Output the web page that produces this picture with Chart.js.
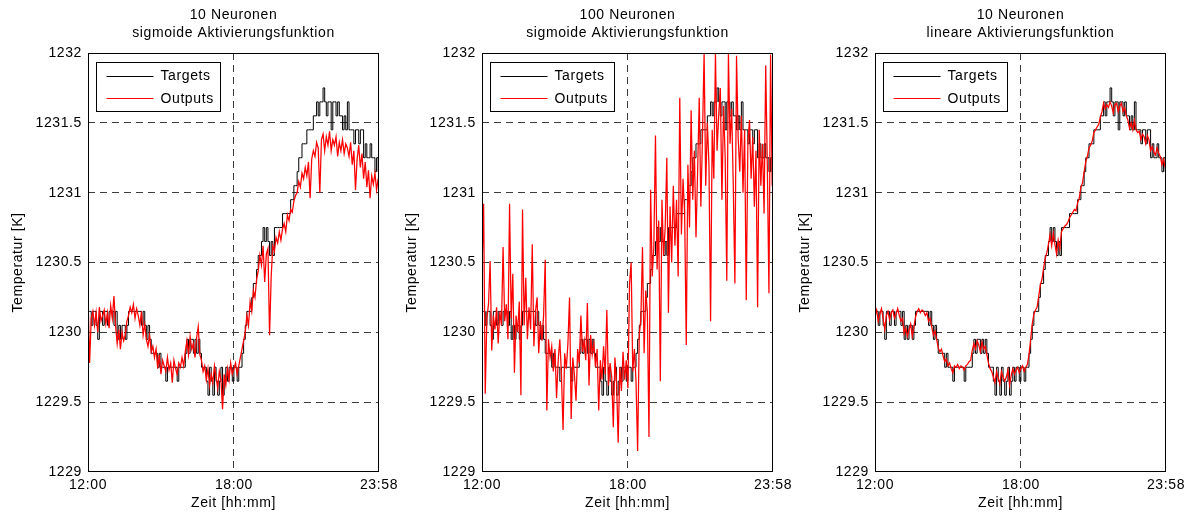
<!DOCTYPE html>
<html lang="de">
<head>
<meta charset="utf-8">
<title>Neuronale Netze – Temperatur</title>
<script src="https://cdn.jsdelivr.net/npm/chart.js@4.4.1/dist/chart.umd.min.js"></script>
<style>
  html, body { margin: 0; padding: 0; background: #fff; }
  #wrap { position: relative; width: 1189px; height: 512px; overflow: hidden; background: #fff; }
  #wrap canvas { position: absolute; top: 0; }
</style>
</head>
<body>
<div id="wrap">
  <canvas id="panel1" width="420" height="512" style="left:0px"></canvas>
  <canvas id="panel2" width="420" height="512" style="left:394px"></canvas>
  <canvas id="panel3" width="420" height="512" style="left:787px"></canvas>
</div>
<script>
// Abtastung: ein Wert alle 4 Minuten ab 12:00
const stepMinutes = 4;

const xTickValues = [0, 360, 718];
const xTickLabels = ['12:00', '18:00', '23:58'];
const yTickValues = [1229, 1229.5, 1230, 1230.5, 1231, 1231.5, 1232];

const seriesNames = ['Targets', 'Outputs'];

const panelTitles = [
  ['10 Neuronen', 'sigmoide Aktivierungsfunktion'],
  ['100 Neuronen', 'sigmoide Aktivierungsfunktion'],
  ['10 Neuronen', 'lineare Aktivierungsfunktion']
];

// gemessene Temperatur (gleich in allen drei Diagrammen)
const targets = [
  1230.15,1230.15,1230.05,1230.15,1230.15,1230.05,1229.95,1230.15,1230.15,1230.05,
  1230.15,1230.15,1230.05,1230.15,1230.15,1230.15,1230.05,1230.15,1229.95,1230.05,
  1229.95,1230.05,1230.05,1229.95,1230.05,1230.15,1230.15,1230.15,1230.15,1230.15,
  1230.15,1230.15,1230.15,1230.05,1230.15,1230.05,1229.95,1230.05,1229.95,1229.85,
  1229.85,1229.85,1229.85,1229.75,1229.85,1229.75,1229.75,1229.75,1229.65,1229.75,
  1229.75,1229.75,1229.75,1229.75,1229.75,1229.65,1229.75,1229.75,1229.75,1229.75,
  1229.85,1229.95,1229.85,1229.95,1229.95,1229.85,1229.95,1229.85,1229.95,1229.85,
  1229.75,1229.75,1229.75,1229.65,1229.55,1229.75,1229.65,1229.55,1229.75,1229.65,
  1229.55,1229.65,1229.75,1229.55,1229.65,1229.75,1229.65,1229.75,1229.75,1229.65,
  1229.75,1229.75,1229.65,1229.75,1229.75,1229.85,1229.95,1230.05,1230.15,1230.15,
  1230.15,1230.25,1230.35,1230.35,1230.45,1230.55,1230.55,1230.65,1230.75,1230.65,
  1230.75,1230.65,1230.55,1230.65,1230.55,1230.75,1230.75,1230.75,1230.75,1230.75,
  1230.85,1230.85,1230.85,1230.85,1230.85,1230.95,1230.95,1231.05,1231.05,1231.15,
  1231.25,1231.25,1231.35,1231.35,1231.35,1231.45,1231.45,1231.45,1231.45,1231.55,
  1231.55,1231.65,1231.55,1231.65,1231.65,1231.75,1231.65,1231.55,1231.65,1231.65,
  1231.45,1231.65,1231.65,1231.55,1231.65,1231.55,1231.55,1231.45,1231.55,1231.45,
  1231.65,1231.45,1231.45,1231.45,1231.35,1231.45,1231.45,1231.35,1231.45,1231.45,
  1231.25,1231.35,1231.25,1231.25,1231.35,1231.25,1231.25,1231.15,1231.25,1231.15
];

// Netzausgabe: 10 Neuronen, sigmoid
const outputsSig10 = [
  1230.25,1229.78,1230.10,1230.15,1230.05,1230.14,1230.00,1230.18,1230.08,1230.12,
  1230.16,1230.06,1230.14,1230.03,1230.19,1230.10,1230.26,1230.05,1229.92,1230.02,
  1229.88,1230.00,1229.94,1229.98,1230.08,1230.12,1230.18,1230.14,1230.20,1230.10,
  1230.17,1230.12,1230.05,1230.15,1229.98,1230.06,1229.95,1229.90,1229.98,1229.86,
  1229.90,1229.82,1229.88,1229.74,1229.84,1229.70,1229.80,1229.76,1229.72,1229.82,
  1229.73,1229.78,1229.64,1229.80,1229.74,1229.70,1229.78,1229.75,1229.82,1229.76,
  1229.86,1229.94,1229.84,1229.97,1229.88,1229.92,1229.82,1229.96,1230.04,1229.84,
  1229.80,1229.72,1229.76,1229.66,1229.74,1229.62,1229.70,1229.64,1229.76,1229.68,
  1229.60,1229.72,1229.66,1229.45,1229.70,1229.62,1229.74,1229.66,1229.78,1229.70,
  1229.74,1229.78,1229.70,1229.76,1229.82,1229.88,1229.94,1230.00,1230.12,1230.05,
  1230.22,1230.15,1230.30,1230.25,1230.38,1230.44,1230.55,1230.48,1230.62,1230.36,
  1230.56,1230.60,1229.98,1230.40,1230.62,1230.58,1230.68,1230.64,1230.72,1230.66,
  1230.74,1230.78,1230.72,1230.84,1230.80,1230.88,1230.86,1230.94,1230.98,1231.00,
  1231.08,1231.04,1231.14,1231.10,1231.18,1231.12,1231.22,1230.96,1231.24,1231.30,
  1231.26,1231.36,1231.32,1231.00,1231.38,1231.42,1231.30,1231.40,1231.34,1231.44,
  1231.30,1231.38,1231.34,1231.40,1231.26,1231.36,1231.30,1231.38,1231.28,1231.35,
  1231.32,1231.26,1231.36,1231.20,1231.30,1231.02,1231.24,1231.34,1231.18,1231.28,
  1231.10,1231.22,1231.04,1231.16,1230.96,1231.12,1231.06,1231.14,1231.02,1231.10
];

// Netzausgabe: 100 Neuronen, sigmoid
const outputsSig100 = [
  1230.45,1230.92,1229.56,1230.10,1230.20,1230.51,1229.87,1230.12,1230.02,1230.18,
  1229.92,1230.15,1230.05,1230.61,1230.08,1230.20,1229.95,1230.92,1230.10,1230.42,
  1229.71,1230.12,1230.00,1230.22,1229.55,1230.88,1230.05,1230.39,1229.95,1230.18,
  1230.02,1230.63,1229.90,1230.15,1230.25,1229.85,1230.08,1229.94,1230.12,1230.52,
  1229.44,1229.95,1229.82,1229.90,1229.72,1229.88,1229.53,1229.80,1229.95,1229.70,
  1229.30,1229.85,1229.74,1229.92,1230.25,1229.38,1229.82,1229.70,1229.51,1229.88,
  1229.78,1230.12,1229.86,1229.94,1229.80,1230.21,1229.62,1229.98,1229.84,1229.92,
  1229.75,1229.88,1229.44,1229.80,1229.66,1229.90,1229.70,1230.16,1229.62,1229.78,
  1229.68,1229.32,1229.82,1229.64,1229.21,1229.75,1229.58,1229.86,1229.66,1229.80,
  1229.60,1230.35,1230.50,1229.72,1229.88,1229.65,1229.15,1229.98,1230.10,1230.61,
  1229.85,1230.30,1230.15,1229.25,1231.02,1230.40,1230.62,1231.41,1230.45,1230.80,
  1229.65,1230.95,1230.55,1230.75,1231.25,1230.14,1230.90,1230.50,1231.05,1230.62,
  1230.95,1230.40,1231.68,1230.70,1231.10,1230.85,1229.91,1231.20,1230.75,1231.59,
  1230.95,1231.30,1230.68,1231.15,1231.68,1230.90,1231.40,1232.00,1231.05,1231.50,
  1231.20,1230.08,1231.45,1231.10,1232.00,1231.30,1231.55,1231.75,1230.95,1231.62,
  1231.25,1230.37,1232.00,1231.35,1231.60,1231.05,1230.35,1231.98,1231.40,1231.15,
  1231.55,1231.00,1231.45,1230.23,1231.35,1231.52,1231.10,1231.40,1230.90,1231.30,
  1230.18,1231.45,1231.05,1231.35,1230.85,1231.91,1231.20,1230.28,1231.99,1231.05
];

// Netzausgabe: 10 Neuronen, linear
const outputsLin10 = [
  1230.12,1230.16,1230.08,1230.13,1230.17,1230.10,1230.02,1230.12,1230.15,1230.09,
  1230.14,1230.16,1230.10,1230.13,1230.17,1230.12,1230.08,1230.10,1229.99,1230.03,
  1229.97,1230.02,1230.06,1229.97,1230.04,1230.11,1230.15,1230.17,1230.14,1230.16,
  1230.15,1230.12,1230.14,1230.08,1230.10,1230.04,1229.98,1230.01,1229.95,1229.89,
  1229.86,1229.88,1229.83,1229.79,1229.81,1229.76,1229.78,1229.74,1229.71,1229.76,
  1229.75,1229.77,1229.74,1229.76,1229.75,1229.73,1229.76,1229.77,1229.79,1229.80,
  1229.87,1229.92,1229.88,1229.94,1229.91,1229.86,1229.93,1229.88,1229.90,1229.84,
  1229.78,1229.74,1229.72,1229.68,1229.64,1229.72,1229.67,1229.63,1229.72,1229.68,
  1229.65,1229.68,1229.73,1229.62,1229.69,1229.74,1229.70,1229.73,1229.75,1229.71,
  1229.74,1229.76,1229.72,1229.75,1229.77,1229.84,1229.95,1230.06,1230.13,1230.16,
  1230.18,1230.26,1230.34,1230.38,1230.46,1230.53,1230.57,1230.63,1230.70,1230.62,
  1230.71,1230.63,1230.56,1230.66,1230.60,1230.72,1230.74,1230.76,1230.77,1230.79,
  1230.82,1230.84,1230.86,1230.88,1230.87,1230.93,1230.96,1231.04,1231.07,1231.15,
  1231.22,1231.26,1231.32,1231.34,1231.37,1231.43,1231.45,1231.47,1231.49,1231.54,
  1231.58,1231.64,1231.60,1231.63,1231.61,1231.65,1231.62,1231.57,1231.63,1231.64,
  1231.58,1231.62,1231.64,1231.58,1231.61,1231.55,1231.52,1231.46,1231.50,1231.45,
  1231.52,1231.45,1231.43,1231.44,1231.38,1231.42,1231.40,1231.35,1231.41,1231.38,
  1231.30,1231.33,1231.29,1231.27,1231.32,1231.28,1231.26,1231.20,1231.24,1231.18
];

const fontFamily = '"Liberation Sans", Arial, Helvetica, sans-serif';
const gridColor = '#3c3c3c';

// Gitterlinien am Rand weglassen, dort liegt der Rahmen
function innerGrid(ctx) {
  const last = ctx.scale.ticks.length - 1;
  return (ctx.index === 0 || ctx.index === last) ? 'rgba(0,0,0,0)' : gridColor;
}

// Rahmen um die Achsen und Legende innerhalb der Zeichenfläche
const boxAndLegend = {
  id: 'boxAndLegend',
  beforeDraw(chart) {
    chart.ctx.letterSpacing = '0.6px';
  },
  afterDraw(chart) {
    const ctx = chart.ctx;
    const a = chart.chartArea;
    ctx.save();
    ctx.setLineDash([]);
    ctx.lineWidth = 1;
    ctx.strokeStyle = '#000';
    ctx.strokeRect(Math.round(a.left) + 0.5, Math.round(a.top) + 0.5,
      Math.round(a.right - a.left) - 1, Math.round(a.bottom - a.top) - 1);

    // Legende
    const lx = Math.round(a.left) + 8.5;
    const ly = Math.round(a.top) + 9.5;
    ctx.fillStyle = '#fff';
    ctx.fillRect(lx, ly, 124, 49);
    ctx.strokeRect(lx, ly, 124, 49);

    const legendItems = [chart.data.datasets[1], chart.data.datasets[0]];
    ctx.font = '14px ' + fontFamily;
    ctx.textBaseline = 'middle';
    ctx.textAlign = 'left';
    legendItems.forEach(function (ds, i) {
      const y = ly + 13 + i * 22.5;
      ctx.beginPath();
      ctx.strokeStyle = ds.borderColor;
      ctx.lineWidth = 1;
      ctx.moveTo(lx + 10, Math.round(y) + 0.5);
      ctx.lineTo(lx + 57, Math.round(y) + 0.5);
      ctx.stroke();
      ctx.fillStyle = '#000';
      ctx.fillText(ds.label, lx + 64, y + 1);
    });
    ctx.restore();
  }
};

function makePanel(canvasId, titleLines, outputs) {
  const targetPoints = targets.map(function (v, i) { return { x: i * stepMinutes, y: v }; });
  const outputPoints = outputs.map(function (v, i) { return { x: i * stepMinutes, y: v }; });

  const ctx = document.getElementById(canvasId).getContext('2d');
  return new Chart(ctx, {
    type: 'line',
    data: {
      datasets: [
        {
          label: seriesNames[1],
          data: outputPoints,
          borderColor: '#ff0000',
          borderWidth: 1.25,
          pointRadius: 0,
          tension: 0,
          order: 0
        },
        {
          label: seriesNames[0],
          data: targetPoints,
          borderColor: '#000000',
          borderWidth: 1,
          pointRadius: 0,
          stepped: true,
          order: 1
        }
      ]
    },
    options: {
      responsive: false,
      animation: false,
      events: [],
      layout: { padding: { left: 0, right: 41, top: 0, bottom: 0 } },
      plugins: {
        legend: { display: false },
        tooltip: { enabled: false },
        title: {
          display: true,
          fullSize: false,
          text: titleLines,
          color: '#000',
          font: { family: fontFamily, size: 14, weight: 'normal', lineHeight: '18px' },
          padding: { top: 6, bottom: 11 }
        }
      },
      scales: {
        x: {
          type: 'linear',
          min: 0,
          max: 718,
          afterBuildTicks: function (scale) {
            scale.ticks = xTickValues.map(function (v) { return { value: v }; });
          },
          afterFit: function (scale) { scale.height = 40; },
          ticks: {
            autoSkip: false,
            maxRotation: 0,
            padding: 5,
            color: '#000',
            font: { family: fontFamily, size: 14, lineHeight: 1.15 },
            callback: function (value, index) { return xTickLabels[index]; }
          },
          grid: { color: innerGrid, lineWidth: 1, drawTicks: false },
          border: { display: false, dash: [7, 5] },
          title: {
            display: true,
            text: 'Zeit [hh:mm]',
            color: '#000',
            font: { family: fontFamily, size: 14, lineHeight: 1.15 },
            padding: { top: 0, bottom: 1 }
          }
        },
        y: {
          min: 1229,
          max: 1232,
          afterBuildTicks: function (scale) {
            scale.ticks = yTickValues.map(function (v) { return { value: v }; });
          },
          afterFit: function (scale) { scale.width = 88; },
          ticks: {
            padding: 6,
            color: '#000',
            font: { family: fontFamily, size: 14 },
            callback: function (value) { return String(value); }
          },
          grid: { color: innerGrid, lineWidth: 1, drawTicks: false },
          border: { display: false, dash: [7, 5] },
          title: {
            display: true,
            text: 'Temperatur [K]',
            color: '#000',
            font: { family: fontFamily, size: 14, lineHeight: 1.15 },
            padding: { top: 10, bottom: 0 }
          }
        }
      }
    },
    plugins: [boxAndLegend]
  });
}

document.addEventListener('DOMContentLoaded', function () {
  makePanel('panel1', panelTitles[0], outputsSig10);
  makePanel('panel2', panelTitles[1], outputsSig100);
  makePanel('panel3', panelTitles[2], outputsLin10);
});
</script>
</body>
</html>
